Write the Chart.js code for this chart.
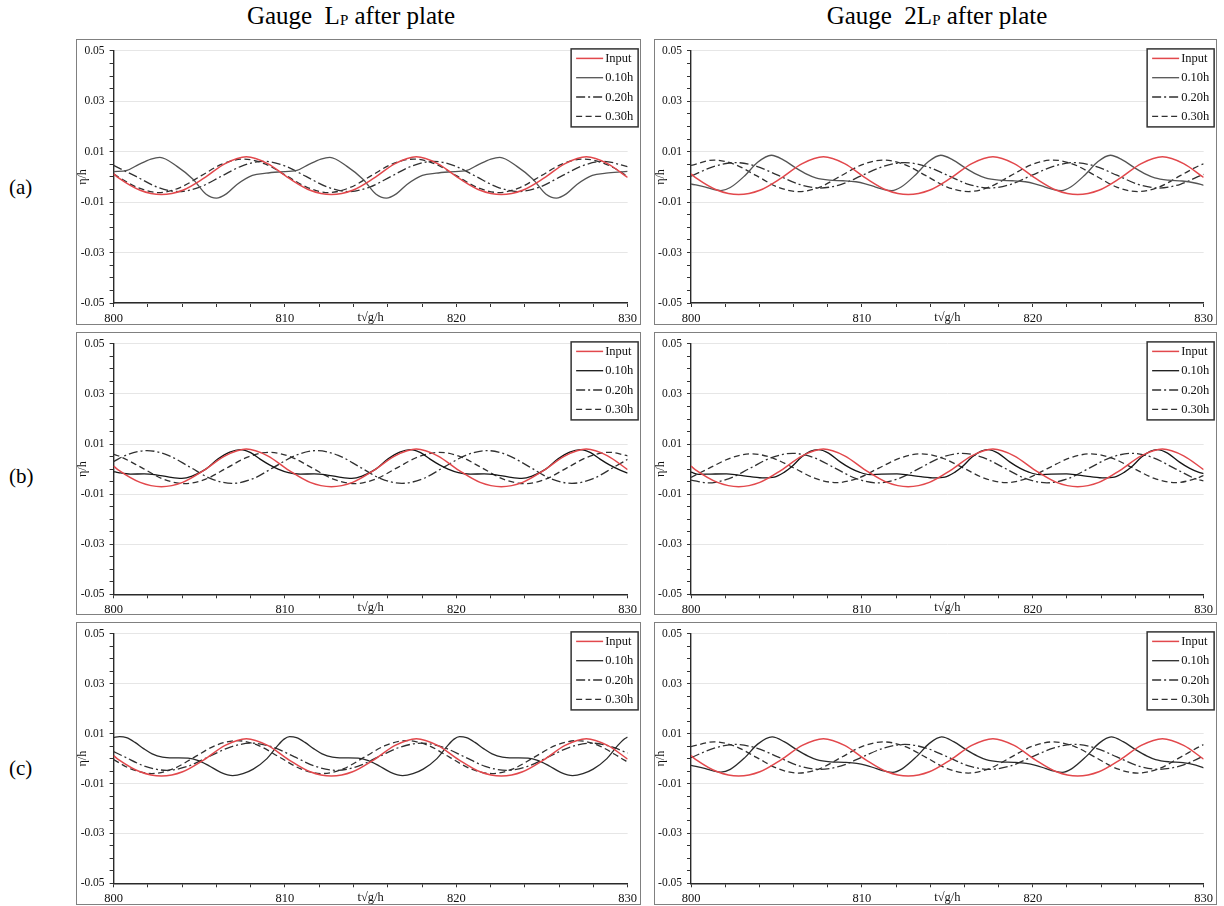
<!DOCTYPE html>
<html>
<head>
<meta charset="utf-8">
<script src="https://cdn.jsdelivr.net/npm/chart.js@4.4.1/dist/chart.umd.min.js"></script>
<style>
  body{margin:0;background:#fff;width:1224px;height:906px;position:relative;overflow:hidden;
       font-family:"Liberation Serif","Tinos","Times New Roman","Nimbus Roman","DejaVu Serif",serif;color:#000}
  .title{position:absolute;top:2px;font-size:25px;white-space:nowrap;transform:translateX(-50%)}
  .title .sub{font-size:15px;position:relative;top:1px}
  .rowlab{position:absolute;left:9px;font-size:21px;transform:translateY(-50%)}
  .panel{position:absolute;outline:1px solid #808080;outline-offset:-1px;background:#fff}
  .panel canvas{display:block}
</style>
</head>
<body>
<div class="title" style="left:351px">Gauge&nbsp;&nbsp;L<span class="sub">P</span> after plate</div>
<div class="title" style="left:937px">Gauge&nbsp;&nbsp;2L<span class="sub">P</span> after plate</div>
<div class="rowlab" style="top:187px">(a)</div>
<div class="rowlab" style="top:476px">(b)</div>
<div class="rowlab" style="top:768px">(c)</div>

<div class="panel" style="left:76px;top:39px;width:565px;height:286px"><canvas id="aL" width="565" height="286"></canvas></div>
<div class="panel" style="left:654px;top:39px;width:563px;height:286px"><canvas id="aR" width="563" height="286"></canvas></div>
<div class="panel" style="left:76px;top:332px;width:565px;height:283px"><canvas id="bL" width="565" height="283"></canvas></div>
<div class="panel" style="left:654px;top:332px;width:563px;height:283px"><canvas id="bR" width="563" height="283"></canvas></div>
<div class="panel" style="left:76px;top:622px;width:565px;height:283px"><canvas id="cL" width="565" height="283"></canvas></div>
<div class="panel" style="left:654px;top:622px;width:563px;height:283px"><canvas id="cR" width="563" height="283"></canvas></div>

<script>
// ---------------- data (t = t*sqrt(g/h), eta = eta/h) ----------------
const seriesLabels = ['Input', '0.10h', '0.20h', '0.30h'];
const xTickLabels = [800, 810, 820, 830];
const yTickLabels = [0.05, 0.03, 0.01, -0.01, -0.03, -0.05];

// Input wave (same in all panels)
const tIn = [800, 800.31, 801.55, 802.79, 804.03, 805.27, 806.51, 807.75, 808.99, 810.23, 811.47, 812.71, 813.95, 815.19, 816.43, 817.67, 818.91, 820.15, 821.39, 822.63, 823.87, 825.11, 826.35, 827.59, 828.83, 830];
const etaIn = [0.0012, -0.0005, -0.0053, -0.0070, -0.0053, -0.0005, 0.0053, 0.0080, 0.0053, -0.0005, -0.0053, -0.0070, -0.0053, -0.0005, 0.0053, 0.0080, 0.0053, -0.0005, -0.0053, -0.0070, -0.0053, -0.0005, 0.0053, 0.0080, 0.0053, -0.0002];

// (a) Gauge Lp
const tAL10 = [800, 800.78, 801.48, 802.18, 802.7, 803.7, 804.65, 805.4, 806.0, 806.6, 807.2, 808.1, 808.9, 809.7, 810.7, 811.4, 812.1, 812.62, 813.62, 814.57, 815.32, 815.92, 816.52, 817.12, 818.02, 818.82, 819.62, 820.62, 821.32, 822.02, 822.54, 823.54, 824.49, 825.24, 825.84, 826.44, 827.04, 827.94, 828.74, 829.54, 830];
const etaAL10 = [0.0021, 0.0026, 0.0050, 0.0071, 0.0078, 0.0042, -0.0010, -0.0069, -0.0084, -0.0066, -0.0030, 0.0006, 0.0015, 0.0020, 0.0026, 0.0050, 0.0071, 0.0078, 0.0042, -0.0010, -0.0069, -0.0084, -0.0066, -0.0030, 0.0006, 0.0015, 0.0020, 0.0026, 0.0050, 0.0071, 0.0078, 0.0042, -0.0010, -0.0069, -0.0084, -0.0066, -0.0030, 0.0006, 0.0015, 0.0020, 0.0022];
const tAL20 = [800, 801.31, 802.55, 803.79, 805.03, 806.27, 807.51, 808.75, 809.99, 811.23, 812.47, 813.71, 814.95, 816.19, 817.43, 818.67, 819.91, 821.15, 822.39, 823.63, 824.87, 826.11, 827.35, 828.59, 829.83, 830];
const etaAL20 = [0.0046, 0.0002, -0.0040, -0.0058, -0.0040, 0.0002, 0.0044, 0.0062, 0.0044, 0.0002, -0.0040, -0.0058, -0.0040, 0.0002, 0.0044, 0.0062, 0.0044, 0.0002, -0.0040, -0.0058, -0.0040, 0.0002, 0.0044, 0.0062, 0.0044, 0.0041];
const tAL30 = [800, 801.40, 802.64, 803.88, 805.12, 806.36, 807.60, 808.84, 810.08, 811.32, 812.56, 813.80, 815.04, 816.28, 817.52, 818.76, 820.00, 821.24, 822.48, 823.72, 824.96, 826.20, 827.44, 828.68, 829.92, 830];
const etaAL30 = [0.0011, -0.0042, -0.0062, -0.0042, 0.0005, 0.0052, 0.0071, 0.0052, 0.0005, -0.0042, -0.0062, -0.0042, 0.0005, 0.0052, 0.0071, 0.0052, 0.0005, -0.0042, -0.0062, -0.0042, 0.0005, 0.0052, 0.0071, 0.0052, 0.0005, 0.0000];

// (a) Gauge 2Lp
const tAR10 = [800, 800.85, 801.3, 801.75, 802.3, 803.15, 803.9, 804.7, 805.4, 806.15, 806.8, 807.3, 808.1, 808.9, 809.65, 810.2, 810.8, 811.3, 811.75, 812.3, 813.15, 813.9, 814.62, 815.32, 816.07, 816.72, 817.22, 818.02, 818.82, 819.57, 820.12, 820.72, 821.22, 821.67, 822.22, 823.07, 823.82, 824.54, 825.24, 825.99, 826.64, 827.14, 827.94, 828.74, 829.49, 830];
const etaAR10 = [-0.0028, -0.0040, -0.0049, -0.0054, -0.0042, 0.0005, 0.0058, 0.0086, 0.0068, 0.0035, 0.0010, -0.0004, -0.0013, -0.0015, -0.0019, -0.0027, -0.0040, -0.0050, -0.0054, -0.0040, 0.0009, 0.0061, 0.0086, 0.0068, 0.0035, 0.0010, -0.0004, -0.0013, -0.0015, -0.0019, -0.0027, -0.0040, -0.0050, -0.0054, -0.0040, 0.0009, 0.0061, 0.0086, 0.0068, 0.0035, 0.0010, -0.0004, -0.0013, -0.0016, -0.0024, -0.0033];
const tAR20 = [800, 801.36, 802.60, 803.84, 805.08, 806.32, 807.56, 808.80, 810.04, 811.28, 812.52, 813.76, 815.00, 816.24, 817.48, 818.72, 819.96, 821.20, 822.44, 823.68, 824.92, 826.16, 827.40, 828.64, 829.88, 830];
const etaAR20 = [0.0003, 0.0042, 0.0057, 0.0042, 0.0007, -0.0029, -0.0044, -0.0029, 0.0007, 0.0042, 0.0057, 0.0042, 0.0007, -0.0029, -0.0044, -0.0029, 0.0007, 0.0042, 0.0057, 0.0042, 0.0007, -0.0029, -0.0044, -0.0029, 0.0007, 0.0010];
const tAR30 = [800, 801.35, 802.59, 803.83, 805.07, 806.31, 807.55, 808.79, 810.03, 811.27, 812.51, 813.75, 814.99, 816.23, 817.47, 818.71, 819.95, 821.19, 822.43, 823.67, 824.91, 826.15, 827.39, 828.63, 829.87, 830];
const etaAR30 = [0.0046, 0.0067, 0.0049, 0.0005, -0.0040, -0.0058, -0.0040, 0.0005, 0.0049, 0.0067, 0.0049, 0.0005, -0.0040, -0.0058, -0.0040, 0.0005, 0.0049, 0.0067, 0.0049, 0.0005, -0.0040, -0.0058, -0.0040, 0.0005, 0.0049, 0.0052];

// (b) Gauge Lp
const tBL10 = [800, 800.28, 800.98, 801.78, 802.48, 803.18, 803.98, 804.58, 805.38, 806.08, 806.78, 807.40, 808.00, 808.55, 809.10, 809.60, 810.20, 810.90, 811.70, 812.40, 813.10, 813.90, 814.50, 815.30, 816.00, 816.70, 817.32, 817.92, 818.47, 819.02, 819.52, 820.12, 820.82, 821.62, 822.32, 823.02, 823.82, 824.42, 825.22, 825.92, 826.62, 827.24, 827.84, 828.39, 828.94, 829.44, 830];
const etaBL10 = [-0.0010, -0.0014, -0.0020, -0.0019, -0.0023, -0.0031, -0.0037, -0.0028, 0.0000, 0.0040, 0.0068, 0.0078, 0.0066, 0.0040, 0.0017, 0.0000, -0.0014, -0.0020, -0.0019, -0.0023, -0.0031, -0.0037, -0.0028, 0.0000, 0.0040, 0.0068, 0.0078, 0.0066, 0.0040, 0.0017, 0.0000, -0.0014, -0.0020, -0.0019, -0.0023, -0.0031, -0.0037, -0.0028, 0.0000, 0.0040, 0.0068, 0.0078, 0.0066, 0.0040, 0.0017, 0.0000, -0.0016];
const tBL20 = [800, 800.71, 801.95, 803.19, 804.43, 805.67, 806.91, 808.15, 809.39, 810.63, 811.87, 813.11, 814.35, 815.59, 816.83, 818.07, 819.31, 820.55, 821.79, 823.03, 824.27, 825.51, 826.75, 827.99, 829.23, 830];
const etaBL20 = [0.0030, 0.0055, 0.0074, 0.0055, 0.0009, -0.0038, -0.0057, -0.0038, 0.0009, 0.0055, 0.0074, 0.0055, 0.0009, -0.0038, -0.0057, -0.0038, 0.0009, 0.0055, 0.0074, 0.0055, 0.0009, -0.0038, -0.0057, -0.0038, 0.0009, 0.0039];
const tBL30 = [800, 800.42, 801.66, 802.90, 804.14, 805.38, 806.62, 807.86, 809.10, 810.34, 811.58, 812.82, 814.06, 815.30, 816.54, 817.78, 819.02, 820.26, 821.50, 822.74, 823.98, 825.22, 826.46, 827.70, 828.94, 830];
const etaBL30 = [0.0059, 0.0049, 0.0005, -0.0040, -0.0058, -0.0040, 0.0005, 0.0049, 0.0067, 0.0049, 0.0005, -0.0040, -0.0058, -0.0040, 0.0005, 0.0049, 0.0067, 0.0049, 0.0005, -0.0040, -0.0058, -0.0040, 0.0005, 0.0049, 0.0067, 0.0053];

// (b) Gauge 2Lp
const tBR10 = [800, 800.47, 801.17, 802.07, 802.77, 803.47, 804.27, 804.87, 805.47, 805.87, 806.47, 806.97, 807.45, 808.05, 808.75, 809.35, 809.85, 810.45, 811.15, 812.05, 812.75, 813.45, 814.25, 814.85, 815.45, 815.85, 816.45, 816.95, 817.37, 817.97, 818.67, 819.27, 819.77, 820.37, 821.07, 821.97, 822.67, 823.37, 824.17, 824.77, 825.37, 825.77, 826.37, 826.87, 827.29, 827.89, 828.59, 829.19, 829.69, 830];
const etaBR10 = [-0.0012, -0.0021, -0.0020, -0.0019, -0.0024, -0.0030, -0.0035, -0.0032, -0.0012, 0.0008, 0.0048, 0.0071, 0.0078, 0.0064, 0.0028, 0.0003, -0.0012, -0.0022, -0.0020, -0.0019, -0.0024, -0.0030, -0.0035, -0.0032, -0.0012, 0.0008, 0.0048, 0.0071, 0.0078, 0.0064, 0.0028, 0.0003, -0.0012, -0.0022, -0.0020, -0.0019, -0.0024, -0.0030, -0.0035, -0.0032, -0.0012, 0.0008, 0.0048, 0.0071, 0.0078, 0.0064, 0.0028, 0.0003, -0.0012, -0.0018];
const tBR20 = [800, 800.99, 802.23, 803.47, 804.71, 805.95, 807.19, 808.43, 809.67, 810.91, 812.15, 813.39, 814.63, 815.87, 817.11, 818.35, 819.59, 820.83, 822.07, 823.31, 824.55, 825.79, 827.03, 828.27, 829.51, 830];
const etaBR20 = [-0.0044, -0.0055, -0.0038, 0.0004, 0.0046, 0.0063, 0.0046, 0.0004, -0.0038, -0.0055, -0.0038, 0.0004, 0.0046, 0.0063, 0.0046, 0.0004, -0.0038, -0.0055, -0.0038, 0.0004, 0.0046, 0.0063, 0.0046, 0.0004, -0.0038, -0.0047];
const tBR30 = [800, 801.07, 802.31, 803.55, 804.79, 806.03, 807.27, 808.51, 809.75, 810.99, 812.23, 813.47, 814.71, 815.95, 817.19, 818.43, 819.67, 820.91, 822.15, 823.39, 824.63, 825.87, 827.11, 828.35, 829.59, 830];
const etaBR30 = [-0.0033, 0.0004, 0.0044, 0.0061, 0.0044, 0.0004, -0.0037, -0.0054, -0.0037, 0.0004, 0.0044, 0.0061, 0.0044, 0.0004, -0.0037, -0.0054, -0.0037, 0.0004, 0.0044, 0.0061, 0.0044, 0.0004, -0.0037, -0.0054, -0.0037, -0.0025];

// (c) Gauge Lp
const tCL10 = [800, 800.35, 800.75, 801.25, 801.75, 802.25, 802.85, 803.55, 804.35, 804.95, 805.55, 806.25, 806.95, 807.55, 808.15, 808.95, 809.55, 809.95, 810.27, 810.67, 811.17, 811.67, 812.17, 812.77, 813.47, 814.27, 814.87, 815.47, 816.17, 816.87, 817.47, 818.07, 818.87, 819.47, 819.87, 820.19, 820.59, 821.09, 821.59, 822.09, 822.69, 823.39, 824.19, 824.79, 825.39, 826.09, 826.79, 827.39, 827.99, 828.79, 829.39, 829.79, 830];
const etaCL10 = [0.0085, 0.0088, 0.0084, 0.0065, 0.0040, 0.0019, 0.0006, 0.0003, 0.0002, -0.0008, -0.0028, -0.0055, -0.0068, -0.0060, -0.0042, 0.0000, 0.0050, 0.0078, 0.0088, 0.0084, 0.0065, 0.0040, 0.0019, 0.0006, 0.0003, 0.0002, -0.0008, -0.0028, -0.0055, -0.0068, -0.0060, -0.0042, 0.0000, 0.0050, 0.0078, 0.0088, 0.0084, 0.0065, 0.0040, 0.0019, 0.0006, 0.0003, 0.0002, -0.0008, -0.0028, -0.0055, -0.0068, -0.0060, -0.0042, 0.0000, 0.0050, 0.0078, 0.0086];
const tCL20 = [800, 800.61, 801.85, 803.09, 804.33, 805.57, 806.81, 808.05, 809.29, 810.53, 811.77, 813.01, 814.25, 815.49, 816.73, 817.97, 819.21, 820.45, 821.69, 822.93, 824.17, 825.41, 826.65, 827.89, 829.13, 830];
const etaCL20 = [0.0028, 0.0008, -0.0031, -0.0047, -0.0031, 0.0008, 0.0046, 0.0062, 0.0046, 0.0008, -0.0031, -0.0047, -0.0031, 0.0008, 0.0046, 0.0062, 0.0046, 0.0008, -0.0031, -0.0047, -0.0031, 0.0008, 0.0046, 0.0062, 0.0046, 0.0022];
const tCL30 = [800, 801.00, 802.24, 803.48, 804.72, 805.96, 807.20, 808.44, 809.68, 810.92, 812.16, 813.40, 814.64, 815.88, 817.12, 818.36, 819.60, 820.84, 822.08, 823.32, 824.56, 825.80, 827.04, 828.28, 829.52, 830];
const etaCL30 = [-0.0004, -0.0041, -0.0060, -0.0041, 0.0006, 0.0053, 0.0072, 0.0053, 0.0006, -0.0041, -0.0060, -0.0041, 0.0006, 0.0053, 0.0072, 0.0053, 0.0006, -0.0041, -0.0060, -0.0041, 0.0006, 0.0053, 0.0072, 0.0053, 0.0006, -0.0014];

// (c) Gauge 2Lp
const tCR10 = [800, 800.85, 801.3, 801.75, 802.3, 803.15, 803.9, 804.75, 805.45, 806.2, 806.85, 807.35, 808.15, 808.95, 809.7, 810.25, 810.85, 811.35, 811.8, 812.35, 813.2, 813.95, 814.67, 815.37, 816.12, 816.77, 817.27, 818.07, 818.87, 819.62, 820.17, 820.77, 821.27, 821.72, 822.27, 823.12, 823.87, 824.59, 825.29, 826.04, 826.69, 827.19, 827.99, 828.79, 829.54, 830];
const etaCR10 = [-0.0027, -0.0040, -0.0049, -0.0054, -0.0043, 0.0004, 0.0058, 0.0087, 0.0068, 0.0035, 0.0010, -0.0004, -0.0013, -0.0015, -0.0019, -0.0027, -0.0040, -0.0050, -0.0055, -0.0041, 0.0008, 0.0061, 0.0087, 0.0068, 0.0035, 0.0010, -0.0004, -0.0013, -0.0015, -0.0019, -0.0027, -0.0040, -0.0050, -0.0055, -0.0041, 0.0008, 0.0061, 0.0087, 0.0068, 0.0035, 0.0010, -0.0004, -0.0013, -0.0016, -0.0026, -0.0037];
const tCR20 = [800, 801.36, 802.60, 803.84, 805.08, 806.32, 807.56, 808.80, 810.04, 811.28, 812.52, 813.76, 815.00, 816.24, 817.48, 818.72, 819.96, 821.20, 822.44, 823.68, 824.92, 826.16, 827.40, 828.64, 829.88, 830];
const etaCR20 = [0.0004, 0.0042, 0.0057, 0.0042, 0.0007, -0.0029, -0.0043, -0.0029, 0.0007, 0.0042, 0.0057, 0.0042, 0.0007, -0.0029, -0.0043, -0.0029, 0.0007, 0.0042, 0.0057, 0.0042, 0.0007, -0.0029, -0.0043, -0.0029, 0.0007, 0.0012];
const tCR30 = [800, 801.35, 802.59, 803.83, 805.07, 806.31, 807.55, 808.79, 810.03, 811.27, 812.51, 813.75, 814.99, 816.23, 817.47, 818.71, 819.95, 821.19, 822.43, 823.67, 824.91, 826.15, 827.39, 828.63, 829.87, 830];
const etaCR30 = [0.0048, 0.0067, 0.0049, 0.0005, -0.0040, -0.0058, -0.0040, 0.0005, 0.0049, 0.0067, 0.0049, 0.0005, -0.0040, -0.0058, -0.0040, 0.0005, 0.0049, 0.0067, 0.0049, 0.0005, -0.0040, -0.0058, -0.0040, 0.0005, 0.0052, 0.0056];

// ---------------- styling ----------------
const FONT = '"Liberation Serif", Tinos, "Times New Roman", "Nimbus Roman", "DejaVu Serif", serif';
const RED = '#e2484c';
const DASH_DOT = [9, 3, 2, 3];
const DASHED = [6, 3.5];

const panels = [
  { id: 'aL', yW: 37.6, padR: 12.4, padT: 7.7, xH: 22,   solid: '#545454', d: [[tAL10, etaAL10], [tAL20, etaAL20], [tAL30, etaAL30]] },
  { id: 'aR', yW: 37.0, padR: 11.5, padT: 7.7, xH: 22,   solid: '#545454', d: [[tAR10, etaAR10], [tAR20, etaAR20], [tAR30, etaAR30]] },
  { id: 'bL', yW: 37.6, padR: 12.4, padT: 6.3, xH: 20.7, solid: '#161616', d: [[tBL10, etaBL10], [tBL20, etaBL20], [tBL30, etaBL30]] },
  { id: 'bR', yW: 37.0, padR: 11.5, padT: 6.3, xH: 20.7, solid: '#161616', d: [[tBR10, etaBR10], [tBR20, etaBR20], [tBR30, etaBR30]] },
  { id: 'cL', yW: 37.6, padR: 12.4, padT: 6.3, xH: 21.7, solid: '#2a2a2a', d: [[tCL10, etaCL10], [tCL20, etaCL20], [tCL30, etaCL30]] },
  { id: 'cR', yW: 37.0, padR: 11.5, padT: 6.3, xH: 21.7, solid: '#2a2a2a', d: [[tCR10, etaCR10], [tCR20, etaCR20], [tCR30, etaCR30]] }
];

function pts(t, eta) { return t.map((x, i) => ({ x: x, y: eta[i] })); }
function isYLabel(v) { return yTickLabels.some(l => Math.abs(l - v) < 1e-6); }

const boxLegend = {
  id: 'boxLegend',
  afterDraw(chart) {
    const { ctx, chartArea } = chart;
    const w = 67, h = 78;
    const x0 = chartArea.right - 56.5, y0 = chartArea.top - 2;
    ctx.save();
    ctx.fillStyle = '#fff';
    ctx.fillRect(x0, y0, w, h);
    ctx.strokeStyle = '#333';
    ctx.lineWidth = 1.5;
    ctx.setLineDash([]);
    ctx.strokeRect(x0, y0, w, h);
    chart.data.datasets.forEach((ds, i) => {
      const y = y0 + 9.5 + i * 19.3;
      ctx.beginPath();
      ctx.setLineDash(ds.borderDash || []);
      ctx.strokeStyle = ds.borderColor;
      ctx.lineWidth = ds.borderWidth;
      ctx.moveTo(x0 + 5, y);
      ctx.lineTo(x0 + 32, y);
      ctx.stroke();
      ctx.setLineDash([]);
      ctx.fillStyle = '#111';
      ctx.font = '12.5px ' + FONT;
      ctx.textBaseline = 'middle';
      ctx.textAlign = 'left';
      ctx.fillText(ds.label, x0 + 34, y + 0.5);
    });
    ctx.restore();
  }
};

panels.forEach(p => {
  const datasets = [
    { label: seriesLabels[0], data: pts(tIn, etaIn), borderColor: RED, borderWidth: 1.5, borderDash: [] },
    { label: seriesLabels[1], data: pts(p.d[0][0], p.d[0][1]), borderColor: p.solid, borderWidth: 1.3, borderDash: [] },
    { label: seriesLabels[2], data: pts(p.d[1][0], p.d[1][1]), borderColor: '#303030', borderWidth: 1.3, borderDash: DASH_DOT },
    { label: seriesLabels[3], data: pts(p.d[2][0], p.d[2][1]), borderColor: '#303030', borderWidth: 1.3, borderDash: DASHED }
  ].map(ds => Object.assign(ds, { pointRadius: 0, fill: false, cubicInterpolationMode: 'monotone' }));

  new Chart(document.getElementById(p.id), {
    type: 'line',
    data: { datasets },
    options: {
      responsive: false,
      animation: false,
      devicePixelRatio: 1,
      events: [],
      layout: { padding: { top: p.padT, right: p.padR, left: 0, bottom: 0 } },
      plugins: { legend: { display: false }, tooltip: { enabled: false } },
      scales: {
        x: {
          type: 'linear', min: 800, max: 830,
          afterFit: s => { s.height = p.xH; },
          border: { display: true, color: '#2a2a2a', width: 1.4 },
          grid: { display: true, drawOnChartArea: false, drawTicks: true, tickLength: 4, tickColor: '#333', tickWidth: 1 },
          ticks: {
            stepSize: 2, autoSkip: false, maxRotation: 0, padding: 4, color: '#111',
            font: { family: FONT, size: 12.5 },
            callback: v => xTickLabels.includes(Math.round(v)) && Math.abs(v - Math.round(v)) < 1e-6 ? String(Math.round(v)) : ''
          },
          title: { display: true, text: 't\u221Ag/h', color: '#111', font: { family: FONT, size: 12.5 }, padding: { top: 0, bottom: 0 } }
        },
        y: {
          type: 'linear', min: -0.05, max: 0.05,
          afterFit: s => { s.width = p.yW; },
          border: { display: true, color: '#2a2a2a', width: 1.4 },
          grid: {
            display: true, drawTicks: true, tickLength: 4, tickColor: '#333', tickWidth: 1,
            color: c => (c.tick && isYLabel(c.tick.value)) ? '#e6e6e6' : 'rgba(0,0,0,0)',
            lineWidth: 1
          },
          ticks: {
            stepSize: 0.005, autoSkip: false, padding: 5, color: '#111',
            font: { family: FONT, size: 11.5 },
            callback: v => isYLabel(v) ? v.toFixed(2) : ''
          },
          title: { display: true, text: '\u03B7/h', color: '#111', font: { family: FONT, size: 12 }, padding: { top: 0, bottom: 0 } }
        }
      }
    },
    plugins: [boxLegend]
  });
});
</script>
</body>
</html>
